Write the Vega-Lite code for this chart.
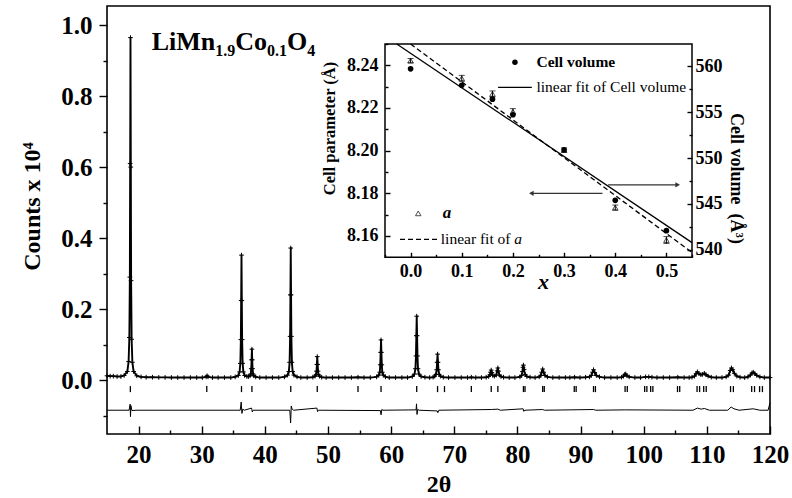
{
  "$schema": "https://vega.github.io/schema/vega-lite/v6.json",
  "width": 663,
  "height": 428,
  "autosize": "none",
  "padding": {"left": 107, "top": 6, "right": 22, "bottom": 64},
  "config": {
    "font": "Liberation Serif",
    "view": {"stroke": "black", "strokeWidth": 1.6},
    "axis": {
      "labelFont": "Liberation Serif",
      "titleFont": "Liberation Serif",
      "labelColor": "black",
      "titleColor": "black",
      "tickColor": "black",
      "domainColor": "black",
      "labelFontWeight": "bold",
      "titleFontWeight": "bold",
      "grid": false,
      "domain": false,
      "tickWidth": 1.4,
      "labelFlush": false,
      "labelOverlap": false,
      "zindex": 1
    }
  },
  "datasets": {
    "pattern": [
      {"t": 15.0, "c": 0.012}, {"t": 15.5, "c": 0.011}, {"t": 16.0, "c": 0.011}, {"t": 16.6, "c": 0.010},
      {"t": 17.2, "c": 0.010}, {"t": 17.72, "c": 0.013}, {"t": 18.22, "c": 0.024}, {"t": 18.42, "c": 0.052},
      {"t": 18.54, "c": 0.12}, {"t": 18.62, "c": 0.29}, {"t": 18.67, "c": 0.61}, {"t": 18.72, "c": 0.965},
      {"t": 18.77, "c": 0.60}, {"t": 18.82, "c": 0.28}, {"t": 18.90, "c": 0.115}, {"t": 19.02, "c": 0.05},
      {"t": 19.22, "c": 0.024}, {"t": 19.72, "c": 0.012}, {"t": 20.4, "c": 0.009}, {"t": 21.2, "c": 0.008},
      {"t": 22.2, "c": 0.008}, {"t": 23.2, "c": 0.0075}, {"t": 24.2, "c": 0.0075}, {"t": 25.2, "c": 0.007},
      {"t": 26.2, "c": 0.007}, {"t": 27.2, "c": 0.007}, {"t": 28.2, "c": 0.007}, {"t": 29.2, "c": 0.007},
      {"t": 30.1, "c": 0.007}, {"t": 30.7, "c": 0.009}, {"t": 30.85, "c": 0.012}, {"t": 31.0, "c": 0.009},
      {"t": 31.7, "c": 0.007}, {"t": 32.6, "c": 0.007}, {"t": 33.6, "c": 0.007}, {"t": 34.6, "c": 0.007},
      {"t": 35.3, "c": 0.009}, {"t": 35.8, "c": 0.013}, {"t": 36.0, "c": 0.023}, {"t": 36.12, "c": 0.047},
      {"t": 36.2, "c": 0.114}, {"t": 36.25, "c": 0.224}, {"t": 36.3, "c": 0.352}, {"t": 36.35, "c": 0.224},
      {"t": 36.4, "c": 0.114}, {"t": 36.48, "c": 0.047}, {"t": 36.6, "c": 0.023}, {"t": 36.8, "c": 0.013},
      {"t": 37.15, "c": 0.010}, {"t": 37.4, "c": 0.010}, {"t": 37.65, "c": 0.012}, {"t": 37.77, "c": 0.017},
      {"t": 37.85, "c": 0.032}, {"t": 37.9, "c": 0.057}, {"t": 37.95, "c": 0.087}, {"t": 38.0, "c": 0.057},
      {"t": 38.05, "c": 0.032}, {"t": 38.13, "c": 0.017}, {"t": 38.25, "c": 0.012}, {"t": 38.55, "c": 0.009},
      {"t": 39.2, "c": 0.007}, {"t": 40.2, "c": 0.007}, {"t": 41.2, "c": 0.007}, {"t": 42.2, "c": 0.007},
      {"t": 43.1, "c": 0.009}, {"t": 43.6, "c": 0.014}, {"t": 43.8, "c": 0.024}, {"t": 43.92, "c": 0.05},
      {"t": 44.0, "c": 0.123}, {"t": 44.05, "c": 0.24}, {"t": 44.1, "c": 0.372}, {"t": 44.15, "c": 0.24},
      {"t": 44.2, "c": 0.123}, {"t": 44.28, "c": 0.05}, {"t": 44.4, "c": 0.024}, {"t": 44.6, "c": 0.014},
      {"t": 45.1, "c": 0.009}, {"t": 45.7, "c": 0.007}, {"t": 46.7, "c": 0.007}, {"t": 47.6, "c": 0.008},
      {"t": 47.95, "c": 0.011}, {"t": 48.1, "c": 0.015}, {"t": 48.18, "c": 0.025}, {"t": 48.24, "c": 0.044},
      {"t": 48.3, "c": 0.066}, {"t": 48.36, "c": 0.044}, {"t": 48.42, "c": 0.025}, {"t": 48.5, "c": 0.015},
      {"t": 48.65, "c": 0.011}, {"t": 49.0, "c": 0.008}, {"t": 49.7, "c": 0.007}, {"t": 50.7, "c": 0.007},
      {"t": 51.7, "c": 0.007}, {"t": 52.7, "c": 0.007}, {"t": 53.7, "c": 0.007}, {"t": 54.75, "c": 0.008},
      {"t": 55.7, "c": 0.007}, {"t": 56.7, "c": 0.007}, {"t": 57.7, "c": 0.009}, {"t": 58.05, "c": 0.014},
      {"t": 58.2, "c": 0.022}, {"t": 58.28, "c": 0.043}, {"t": 58.34, "c": 0.078}, {"t": 58.4, "c": 0.113},
      {"t": 58.46, "c": 0.078}, {"t": 58.52, "c": 0.043}, {"t": 58.6, "c": 0.022}, {"t": 58.75, "c": 0.014},
      {"t": 59.1, "c": 0.009}, {"t": 59.7, "c": 0.007}, {"t": 60.7, "c": 0.007}, {"t": 61.7, "c": 0.007},
      {"t": 62.6, "c": 0.007}, {"t": 63.35, "c": 0.010}, {"t": 63.7, "c": 0.017}, {"t": 63.85, "c": 0.032},
      {"t": 63.93, "c": 0.068}, {"t": 63.99, "c": 0.125}, {"t": 64.05, "c": 0.18}, {"t": 64.11, "c": 0.125},
      {"t": 64.17, "c": 0.068}, {"t": 64.25, "c": 0.032}, {"t": 64.4, "c": 0.017}, {"t": 64.75, "c": 0.010},
      {"t": 65.35, "c": 0.008}, {"t": 66.1, "c": 0.007}, {"t": 66.65, "c": 0.008}, {"t": 66.9, "c": 0.011},
      {"t": 67.1, "c": 0.016}, {"t": 67.21, "c": 0.029}, {"t": 67.28, "c": 0.05}, {"t": 67.35, "c": 0.073},
      {"t": 67.42, "c": 0.05}, {"t": 67.49, "c": 0.029}, {"t": 67.6, "c": 0.016}, {"t": 67.8, "c": 0.011},
      {"t": 68.25, "c": 0.008}, {"t": 69.1, "c": 0.007}, {"t": 70.1, "c": 0.007}, {"t": 71.1, "c": 0.007},
      {"t": 72.1, "c": 0.007}, {"t": 72.7, "c": 0.008}, {"t": 73.4, "c": 0.007}, {"t": 74.3, "c": 0.007},
      {"t": 75.05, "c": 0.008}, {"t": 75.45, "c": 0.010}, {"t": 75.65, "c": 0.015}, {"t": 75.75, "c": 0.022},
      {"t": 75.85, "c": 0.028}, {"t": 75.95, "c": 0.021}, {"t": 76.1, "c": 0.013}, {"t": 76.35, "c": 0.011},
      {"t": 76.65, "c": 0.014}, {"t": 76.8, "c": 0.026}, {"t": 76.9, "c": 0.034}, {"t": 77.0, "c": 0.025},
      {"t": 77.15, "c": 0.014}, {"t": 77.4, "c": 0.010}, {"t": 77.8, "c": 0.008}, {"t": 78.7, "c": 0.007},
      {"t": 79.6, "c": 0.007}, {"t": 80.4, "c": 0.009}, {"t": 80.65, "c": 0.013}, {"t": 80.8, "c": 0.024},
      {"t": 80.88, "c": 0.036}, {"t": 80.95, "c": 0.042}, {"t": 81.05, "c": 0.030}, {"t": 81.2, "c": 0.016},
      {"t": 81.5, "c": 0.010}, {"t": 82.0, "c": 0.008}, {"t": 82.8, "c": 0.007}, {"t": 83.45, "c": 0.009},
      {"t": 83.7, "c": 0.013}, {"t": 83.85, "c": 0.022}, {"t": 84.0, "c": 0.031}, {"t": 84.15, "c": 0.022},
      {"t": 84.35, "c": 0.013}, {"t": 84.75, "c": 0.009}, {"t": 85.6, "c": 0.007}, {"t": 86.6, "c": 0.007},
      {"t": 87.6, "c": 0.007}, {"t": 88.3, "c": 0.007}, {"t": 89.05, "c": 0.008}, {"t": 89.9, "c": 0.007},
      {"t": 90.8, "c": 0.008}, {"t": 91.4, "c": 0.009}, {"t": 91.7, "c": 0.013}, {"t": 91.9, "c": 0.022},
      {"t": 92.05, "c": 0.029}, {"t": 92.25, "c": 0.021}, {"t": 92.5, "c": 0.013}, {"t": 93.0, "c": 0.009},
      {"t": 93.8, "c": 0.007}, {"t": 94.8, "c": 0.007}, {"t": 95.8, "c": 0.007}, {"t": 96.5, "c": 0.008},
      {"t": 96.8, "c": 0.011}, {"t": 97.0, "c": 0.016}, {"t": 97.15, "c": 0.017}, {"t": 97.35, "c": 0.012},
      {"t": 97.7, "c": 0.009}, {"t": 98.6, "c": 0.007}, {"t": 99.5, "c": 0.007}, {"t": 100.3, "c": 0.009},
      {"t": 100.8, "c": 0.009}, {"t": 101.3, "c": 0.008}, {"t": 102.1, "c": 0.007}, {"t": 103.1, "c": 0.007},
      {"t": 104.1, "c": 0.007}, {"t": 105.4, "c": 0.008}, {"t": 106.4, "c": 0.007}, {"t": 107.2, "c": 0.007},
      {"t": 107.65, "c": 0.008}, {"t": 108.05, "c": 0.011}, {"t": 108.3, "c": 0.018}, {"t": 108.5, "c": 0.023},
      {"t": 108.75, "c": 0.018}, {"t": 109.05, "c": 0.015}, {"t": 109.3, "c": 0.016}, {"t": 109.6, "c": 0.019},
      {"t": 109.85, "c": 0.015}, {"t": 110.2, "c": 0.011}, {"t": 110.7, "c": 0.008}, {"t": 111.5, "c": 0.007},
      {"t": 112.4, "c": 0.007}, {"t": 113.05, "c": 0.009}, {"t": 113.45, "c": 0.014}, {"t": 113.7, "c": 0.027},
      {"t": 113.9, "c": 0.034}, {"t": 114.1, "c": 0.029}, {"t": 114.35, "c": 0.019}, {"t": 114.75, "c": 0.011},
      {"t": 115.25, "c": 0.008}, {"t": 116.0, "c": 0.007}, {"t": 116.5, "c": 0.009}, {"t": 116.9, "c": 0.014},
      {"t": 117.15, "c": 0.020}, {"t": 117.35, "c": 0.022}, {"t": 117.6, "c": 0.018}, {"t": 117.9, "c": 0.013},
      {"t": 118.4, "c": 0.009}, {"t": 119.1, "c": 0.007}, {"t": 120.0, "c": 0.007}
    ],
    "bragg": [
      {"t": 18.7}, {"t": 30.8}, {"t": 36.3}, {"t": 37.95}, {"t": 44.1}, {"t": 48.3}, {"t": 54.75},
      {"t": 58.4}, {"t": 64.05}, {"t": 67.35}, {"t": 68.45}, {"t": 72.7}, {"t": 75.85}, {"t": 76.9},
      {"t": 80.95}, {"t": 81.2}, {"t": 84.0}, {"t": 84.25}, {"t": 89.0}, {"t": 89.3}, {"t": 92.05},
      {"t": 92.35}, {"t": 97.05}, {"t": 97.4}, {"t": 100.15}, {"t": 100.5}, {"t": 101.1}, {"t": 101.45},
      {"t": 105.35}, {"t": 105.7}, {"t": 108.45}, {"t": 108.85}, {"t": 109.5}, {"t": 109.9},
      {"t": 113.75}, {"t": 114.2}, {"t": 117.1}, {"t": 117.55}, {"t": 118.35}, {"t": 118.8}
    ],
    "diff": [
      {"t": 15.0, "d": -0.085}, {"t": 18.5, "d": -0.085}, {"t": 18.66, "d": -0.068}, {"t": 18.72, "d": -0.103},
      {"t": 18.78, "d": -0.072}, {"t": 18.95, "d": -0.086}, {"t": 19.6, "d": -0.085}, {"t": 36.1, "d": -0.085},
      {"t": 36.25, "d": -0.062}, {"t": 36.37, "d": -0.094}, {"t": 36.5, "d": -0.082}, {"t": 36.75, "d": -0.085},
      {"t": 37.9, "d": -0.079}, {"t": 38.01, "d": -0.09}, {"t": 38.15, "d": -0.085}, {"t": 43.95, "d": -0.085},
      {"t": 44.08, "d": -0.121}, {"t": 44.18, "d": -0.073}, {"t": 44.3, "d": -0.081}, {"t": 44.55, "d": -0.085},
      {"t": 48.25, "d": -0.079}, {"t": 48.35, "d": -0.089}, {"t": 48.5, "d": -0.085}, {"t": 58.3, "d": -0.086},
      {"t": 58.4, "d": -0.098}, {"t": 58.52, "d": -0.083}, {"t": 58.7, "d": -0.085}, {"t": 63.95, "d": -0.084},
      {"t": 64.02, "d": -0.067}, {"t": 64.1, "d": -0.097}, {"t": 64.2, "d": -0.083}, {"t": 64.45, "d": -0.085},
      {"t": 67.3, "d": -0.087}, {"t": 67.4, "d": -0.092}, {"t": 67.55, "d": -0.085}, {"t": 75.85, "d": -0.083},
      {"t": 76.9, "d": -0.082}, {"t": 77.3, "d": -0.085}, {"t": 80.9, "d": -0.081}, {"t": 81.0, "d": -0.088},
      {"t": 81.2, "d": -0.085}, {"t": 84.0, "d": -0.083}, {"t": 84.3, "d": -0.085}, {"t": 92.05, "d": -0.083},
      {"t": 92.4, "d": -0.085}, {"t": 97.1, "d": -0.084}, {"t": 107.8, "d": -0.085}, {"t": 108.5, "d": -0.079},
      {"t": 109.1, "d": -0.082}, {"t": 109.6, "d": -0.080}, {"t": 110.4, "d": -0.085}, {"t": 113.3, "d": -0.085},
      {"t": 113.85, "d": -0.076}, {"t": 114.3, "d": -0.081}, {"t": 115.1, "d": -0.085}, {"t": 117.35, "d": -0.081},
      {"t": 118.4, "d": -0.085}, {"t": 119.7, "d": -0.085}, {"t": 120.0, "d": -0.064}
    ],
    "cell": [
      {"x": 0.0, "a": 8.2422, "aLo": 8.2412, "aHi": 8.2432, "V": 559.7},
      {"x": 0.1, "a": 8.2339, "aLo": 8.2325, "aHi": 8.2353, "V": 557.9},
      {"x": 0.16, "a": 8.2266, "aLo": 8.2252, "aHi": 8.2280, "V": 556.4},
      {"x": 0.2, "a": 8.2183, "aLo": 8.2169, "aHi": 8.2197, "V": 554.7},
      {"x": 0.3, "a": 8.2003, "aLo": 8.1993, "aHi": 8.2013, "V": 550.9},
      {"x": 0.4, "a": 8.1733, "aLo": 8.1721, "aHi": 8.1745, "V": 545.4},
      {"x": 0.5, "a": 8.1581, "aLo": 8.1565, "aHi": 8.1597, "V": 542.1}
    ],
    "aFit": [{"x": 0.0, "a": 8.25}, {"x": 0.55, "a": 8.1523}],
    "vFit": [{"x": -0.027, "V": 562.4}, {"x": 0.55, "V": 540.8}]
  },
  "layer": [
    {
      "layer": [
        {
          "data": {"name": "pattern"},
          "mark": {"type": "line", "color": "black", "strokeWidth": 1.9, "strokeJoin": "round"},
          "encoding": {
            "x": {"field": "t", "type": "quantitative",
              "scale": {"domain": [15, 120], "nice": false, "zero": false},
              "axis": {"orient": "bottom", "values": [20, 30, 40, 50, 60, 70, 80, 90, 100, 110, 120], "format": "d",
                "tickSize": -8, "labelFontSize": 25, "labelPadding": 16,
                "title": "2θ", "titleFontSize": 24, "titlePadding": 5}},
            "y": {"field": "c", "type": "quantitative",
              "scale": {"domain": [-0.152, 1.054], "nice": false, "zero": false},
              "axis": {"orient": "left", "values": [0, 0.2, 0.4, 0.6, 0.8, 1.0], "format": ".1f",
                "tickSize": 8, "labelFontSize": 25, "labelPadding": 7,
                "title": "Counts x 10⁴", "titleFontSize": 24, "titlePadding": 16, "titleY": 200}}
          }
        },
        {
          "data": {"name": "pattern"},
          "mark": {"type": "point", "shape": "M-1,0H1M0,-1V1", "size": 22, "filled": false, "stroke": "black", "strokeWidth": 1, "opacity": 1},
          "encoding": {
            "x": {"field": "t", "type": "quantitative", "scale": {"domain": [15, 120], "nice": false, "zero": false}, "axis": null},
            "y": {"field": "c", "type": "quantitative", "scale": {"domain": [-0.152, 1.054], "nice": false, "zero": false}, "axis": null}
          }
        },
        {
          "data": {"name": "bragg"},
          "mark": {"type": "rule", "color": "black", "strokeWidth": 1.3},
          "encoding": {
            "x": {"field": "t", "type": "quantitative", "scale": {"domain": [15, 120], "nice": false, "zero": false},
              "axis": {"orient": "bottom", "values": [25, 35, 45, 55, 65, 75, 85, 95, 105, 115], "tickSize": -4, "labels": false, "title": null}},
            "y": {"datum": -0.017, "type": "quantitative", "scale": {"domain": [-0.152, 1.054], "nice": false, "zero": false},
              "axis": {"orient": "left", "values": [-0.1, 0.1, 0.3, 0.5, 0.7, 0.9], "tickSize": 4, "labels": false, "title": null}},
            "y2": {"datum": -0.034}
          }
        },
        {
          "data": {"name": "diff"},
          "mark": {"type": "line", "color": "black", "strokeWidth": 1},
          "encoding": {
            "x": {"field": "t", "type": "quantitative", "scale": {"domain": [15, 120], "nice": false, "zero": false}, "axis": null},
            "y": {"field": "d", "type": "quantitative", "scale": {"domain": [-0.152, 1.054], "nice": false, "zero": false}, "axis": null}
          }
        },
        {
          "data": {"values": [{}]},
          "mark": {"type": "text", "text": "LiMn", "font": "Liberation Serif", "fontWeight": "bold", "fontSize": 26, "align": "left", "baseline": "alphabetic", "color": "black"},
          "encoding": {
            "x": {"datum": 22.08, "type": "quantitative", "axis": null},
            "y": {"datum": 0.929, "type": "quantitative", "axis": null}
          }
        },
        {
          "data": {"values": [{}]},
          "mark": {"type": "text", "text": "1.9", "font": "Liberation Serif", "fontWeight": "bold", "fontSize": 16, "align": "left", "baseline": "alphabetic", "color": "black"},
          "encoding": {
            "x": {"datum": 32.15, "type": "quantitative", "axis": null},
            "y": {"datum": 0.913, "type": "quantitative", "axis": null}
          }
        },
        {
          "data": {"values": [{}]},
          "mark": {"type": "text", "text": "Co", "font": "Liberation Serif", "fontWeight": "bold", "fontSize": 26, "align": "left", "baseline": "alphabetic", "color": "black"},
          "encoding": {
            "x": {"datum": 35.3, "type": "quantitative", "axis": null},
            "y": {"datum": 0.929, "type": "quantitative", "axis": null}
          }
        },
        {
          "data": {"values": [{}]},
          "mark": {"type": "text", "text": "0.1", "font": "Liberation Serif", "fontWeight": "bold", "fontSize": 16, "align": "left", "baseline": "alphabetic", "color": "black"},
          "encoding": {
            "x": {"datum": 40.35, "type": "quantitative", "axis": null},
            "y": {"datum": 0.913, "type": "quantitative", "axis": null}
          }
        },
        {
          "data": {"values": [{}]},
          "mark": {"type": "text", "text": "O", "font": "Liberation Serif", "fontWeight": "bold", "fontSize": 26, "align": "left", "baseline": "alphabetic", "color": "black"},
          "encoding": {
            "x": {"datum": 43.5, "type": "quantitative", "axis": null},
            "y": {"datum": 0.929, "type": "quantitative", "axis": null}
          }
        },
        {
          "data": {"values": [{}]},
          "mark": {"type": "text", "text": "4", "font": "Liberation Serif", "fontWeight": "bold", "fontSize": 16, "align": "left", "baseline": "alphabetic", "color": "black"},
          "encoding": {
            "x": {"datum": 46.7, "type": "quantitative", "axis": null},
            "y": {"datum": 0.913, "type": "quantitative", "axis": null}
          }
        }
      ],
      "resolve": {"axis": {"x": "independent", "y": "independent"}}
    },
    {
      "layer": [
        {
          "data": {"values": [{}]},
          "mark": {"type": "rect", "fillOpacity": 0, "stroke": "black", "strokeWidth": 1.5},
          "encoding": {
            "x": {"datum": -0.05, "type": "quantitative",
              "scale": {"domain": [-0.05, 0.55], "range": [278, 585], "nice": false, "zero": false}, "axis": null},
            "x2": {"datum": 0.55},
            "y": {"datum": 8.15, "type": "quantitative",
              "scale": {"domain": [8.15, 8.25], "range": [251.3, 38], "nice": false, "zero": false}, "axis": null},
            "y2": {"datum": 8.25}
          }
        },
        {
          "data": {"name": "cell"},
          "mark": {"type": "rule", "color": "black", "strokeWidth": 1},
          "encoding": {
            "x": {"field": "x", "type": "quantitative",
              "scale": {"domain": [-0.05, 0.55], "range": [278, 585], "nice": false, "zero": false},
              "axis": {"orient": "bottom", "offset": -176.7, "values": [-0.05, 0.05, 0.15, 0.25, 0.35, 0.45, 0.55], "tickSize": -3, "labels": false, "title": null}},
            "y": {"field": "aLo", "type": "quantitative",
              "scale": {"domain": [8.15, 8.25], "range": [251.3, 38], "nice": false, "zero": false},
              "axis": {"orient": "left", "offset": -278, "values": [8.17, 8.19, 8.21, 8.23, 8.25], "tickSize": -3, "labels": false, "title": null}},
            "y2": {"field": "aHi"}
          }
        },
        {
          "data": {"name": "cell"},
          "mark": {"type": "tick", "orient": "horizontal", "color": "black", "size": 6, "thickness": 1},
          "encoding": {
            "x": {"field": "x", "type": "quantitative", "axis": null},
            "y": {"field": "aLo", "type": "quantitative", "axis": null}
          }
        },
        {
          "data": {"name": "cell"},
          "mark": {"type": "tick", "orient": "horizontal", "color": "black", "size": 6, "thickness": 1},
          "encoding": {
            "x": {"field": "x", "type": "quantitative", "axis": null},
            "y": {"field": "aHi", "type": "quantitative", "axis": null}
          }
        },
        {
          "data": {"name": "cell"},
          "mark": {"type": "point", "shape": "triangle-up", "size": 30, "filled": false, "stroke": "black", "strokeWidth": 1},
          "encoding": {
            "x": {"field": "x", "type": "quantitative",
              "scale": {"domain": [-0.05, 0.55], "range": [278, 585], "nice": false, "zero": false},
              "axis": {"orient": "bottom", "offset": -176.7, "values": [0, 0.1, 0.2, 0.3, 0.4, 0.5], "format": ".1f",
                "tickSize": -5, "labelFontSize": 18, "labelPadding": 10,
                "title": "x", "titleFontSize": 22, "titleFontStyle": "italic", "titleBaseline": "alphabetic", "titleX": 436, "titleY": 31}},
            "y": {"field": "a", "type": "quantitative",
              "scale": {"domain": [8.15, 8.25], "range": [251.3, 38], "nice": false, "zero": false},
              "axis": {"orient": "left", "offset": -278, "values": [8.16, 8.18, 8.2, 8.22, 8.24], "format": ".2f",
                "tickSize": -5, "labelFontSize": 18, "labelPadding": 12,
                "title": "Cell parameter (Å)", "titleFontSize": 16.5, "titlePadding": 9, "titleY": 122}}
          }
        },
        {
          "data": {"name": "aFit"},
          "mark": {"type": "line", "color": "black", "strokeWidth": 1.3, "strokeDash": [5, 3]},
          "encoding": {
            "x": {"field": "x", "type": "quantitative", "axis": null},
            "y": {"field": "a", "type": "quantitative", "axis": null}
          }
        },
        {
          "data": {"values": [{}]},
          "mark": {"type": "point", "shape": "triangle-up", "size": 30, "filled": false, "stroke": "black", "strokeWidth": 1},
          "encoding": {
            "x": {"datum": 0.015, "type": "quantitative", "axis": null},
            "y": {"datum": 8.1706, "type": "quantitative", "axis": null}
          }
        },
        {
          "data": {"values": [{}]},
          "mark": {"type": "text", "text": "a", "fontWeight": "bold", "fontStyle": "italic", "fontSize": 17, "align": "left", "baseline": "middle", "color": "black"},
          "encoding": {
            "x": {"datum": 0.063, "type": "quantitative", "axis": null},
            "y": {"datum": 8.1706, "type": "quantitative", "axis": null}
          }
        },
        {
          "data": {"values": [{}]},
          "mark": {"type": "rule", "color": "black", "strokeWidth": 1.3, "strokeDash": [5, 3]},
          "encoding": {
            "x": {"datum": -0.0207, "type": "quantitative", "axis": null},
            "x2": {"datum": 0.054},
            "y": {"datum": 8.1584, "type": "quantitative", "axis": null}
          }
        },
        {
          "data": {"values": [{}]},
          "mark": {"type": "text", "text": "linear fit of ", "fontSize": 15.5, "align": "left", "baseline": "middle", "color": "black"},
          "encoding": {
            "x": {"datum": 0.059, "type": "quantitative", "axis": null},
            "y": {"datum": 8.1584, "type": "quantitative", "axis": null}
          }
        },
        {
          "data": {"values": [{}]},
          "mark": {"type": "text", "text": "a", "fontSize": 15.5, "fontStyle": "italic", "align": "left", "baseline": "middle", "color": "black"},
          "encoding": {
            "x": {"datum": 0.2027, "type": "quantitative", "axis": null},
            "y": {"datum": 8.1584, "type": "quantitative", "axis": null}
          }
        },
        {
          "data": {"values": [{}]},
          "mark": {"type": "point", "shape": "circle", "size": 30, "filled": true, "color": "black", "opacity": 1},
          "encoding": {
            "x": {"datum": 0.204, "type": "quantitative", "axis": null},
            "y": {"datum": 8.2414, "type": "quantitative", "axis": null}
          }
        },
        {
          "data": {"values": [{}]},
          "mark": {"type": "text", "text": "Cell volume", "fontWeight": "bold", "fontSize": 15.5, "align": "left", "baseline": "middle", "color": "black"},
          "encoding": {
            "x": {"datum": 0.246, "type": "quantitative", "axis": null},
            "y": {"datum": 8.2414, "type": "quantitative", "axis": null}
          }
        },
        {
          "data": {"values": [{}]},
          "mark": {"type": "rule", "color": "black", "strokeWidth": 1.3},
          "encoding": {
            "x": {"datum": 0.171, "type": "quantitative", "axis": null},
            "x2": {"datum": 0.237},
            "y": {"datum": 8.2297, "type": "quantitative", "axis": null}
          }
        },
        {
          "data": {"values": [{}]},
          "mark": {"type": "text", "text": "linear fit of Cell volume", "fontSize": 15.5, "align": "left", "baseline": "middle", "color": "black"},
          "encoding": {
            "x": {"datum": 0.246, "type": "quantitative", "axis": null},
            "y": {"datum": 8.2297, "type": "quantitative", "axis": null}
          }
        },
        {
          "data": {"values": [{}]},
          "mark": {"type": "rule", "color": "#333333", "strokeWidth": 1.2},
          "encoding": {
            "x": {"datum": 0.236, "type": "quantitative", "axis": null},
            "x2": {"datum": 0.375},
            "y": {"datum": 8.18, "type": "quantitative", "axis": null}
          }
        },
        {
          "data": {"values": [{}]},
          "mark": {"type": "point", "shape": "triangle-left", "size": 28, "filled": true, "color": "#333333", "opacity": 1},
          "encoding": {
            "x": {"datum": 0.236, "type": "quantitative", "axis": null},
            "y": {"datum": 8.18, "type": "quantitative", "axis": null}
          }
        },
        {
          "data": {"values": [{}]},
          "mark": {"type": "rule", "color": "#333333", "strokeWidth": 1.2},
          "encoding": {
            "x": {"datum": 0.386, "type": "quantitative", "axis": null},
            "x2": {"datum": 0.522},
            "y": {"datum": 8.184, "type": "quantitative", "axis": null}
          }
        },
        {
          "data": {"values": [{}]},
          "mark": {"type": "point", "shape": "triangle-right", "size": 28, "filled": true, "color": "#333333", "opacity": 1},
          "encoding": {
            "x": {"datum": 0.522, "type": "quantitative", "axis": null},
            "y": {"datum": 8.184, "type": "quantitative", "axis": null}
          }
        }
      ],
      "resolve": {"axis": {"x": "independent", "y": "independent"}}
    },
    {
      "layer": [
        {
          "data": {"name": "cell"},
          "mark": {"type": "point", "shape": "circle", "size": 32, "filled": true, "color": "black", "opacity": 1},
          "encoding": {
            "x": {"field": "x", "type": "quantitative", "scale": {"domain": [-0.05, 0.55], "range": [278, 585], "nice": false, "zero": false}, "axis": null},
            "y": {"field": "V", "type": "quantitative",
              "scale": {"domain": [539.2, 562.4], "range": [251.3, 38], "nice": false, "zero": false},
              "axis": {"orient": "right", "offset": -78, "values": [540, 545, 550, 555, 560], "format": "d",
                "tickSize": -5, "labelFontSize": 18, "labelPadding": 8,
                "title": "Cell volume\u00a0 (Å³)", "titleFontSize": 18, "titlePadding": 4, "titleY": 172}}
          }
        },
        {
          "data": {"name": "vFit"},
          "mark": {"type": "line", "color": "black", "strokeWidth": 1.3},
          "encoding": {
            "x": {"field": "x", "type": "quantitative", "scale": {"domain": [-0.05, 0.55], "range": [278, 585], "nice": false, "zero": false}, "axis": null},
            "y": {"field": "V", "type": "quantitative", "scale": {"domain": [539.2, 562.4], "range": [251.3, 38], "nice": false, "zero": false},
              "axis": {"orient": "right", "offset": -78, "values": [542.5, 547.5, 552.5, 557.5], "tickSize": -3, "labels": false, "title": null}}
          }
        }
      ],
      "resolve": {"axis": {"x": "independent", "y": "independent"}}
    }
  ],
  "resolve": {"scale": {"x": "independent", "y": "independent"}, "axis": {"x": "independent", "y": "independent"}}
}
